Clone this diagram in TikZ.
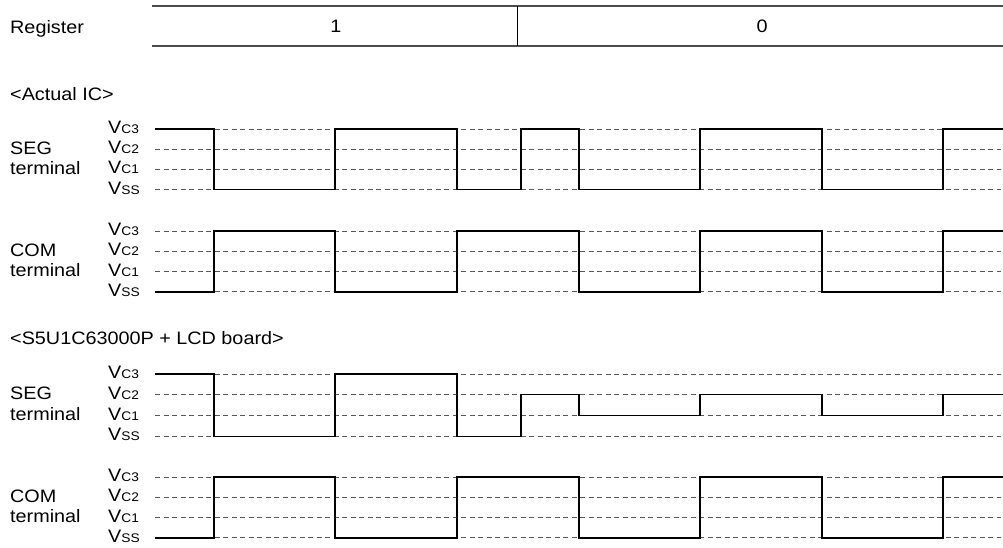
\documentclass[tikz,border=0pt]{standalone}
\usepackage{fontspec}
\setmainfont[FakeStretch=1.1]{Liberation Sans}
\usepackage{tikz}
\usetikzlibrary{positioning}
\tikzset{
  wave/.style={line width=1.2pt, black, line join=miter},
  guide/.style={line width=1pt, gray!70!black, dash pattern=on 5pt off 3.5pt},
  rowline/.style={line width=1.4pt, black!70},
  lvllabel/.style={anchor=base west, inner sep=0pt, yshift=-4.5pt},
  txt/.style={anchor=base west, inner sep=0pt}
}
\newcommand{\lvsub}[1]{{\fontsize{12.5}{13}\selectfont #1}}

% dashed level guides + V labels of one terminal
\newcommand{\levelset}[1]{%
  \foreach \nm/\sb [count=\i from 0] in {c3/C3,c2/C2,c1/C1,ss/SS}{
    \draw[guide] (155,\i) -- (1001,\i);
    \node[lvllabel] (#1-\nm) at (108,\i) {V\lvsub{\sb}};
  }}

\begin{document}
\begin{tikzpicture}[x=1pt, y=-1pt, font=\fontsize{18}{21}\selectfont]
\useasboundingbox (0,0) rectangle (1003,547);

% register row
\node[txt] (reg) at (10,33) {Register};
\draw[rowline] (152,6) -- (1003,6);
\draw[rowline] (152,46) -- (1003,46);
\draw[line width=1pt] (517,6) -- (517,46);
\node (one) at (336,26) {1};
\node (zero) at (762,26) {0};

% actual IC
\node[txt] (ichead) at (10,100) {<Actual IC>};

\begin{scope}[shift={(0,129)}, y=-20.2pt]
\levelset{seg1}
\node[txt, yshift=-5pt] (seg1-name) at (10,1) {SEG};
\node[txt, yshift=-5pt] (seg1-term) at (10,2) {terminal};
\draw[wave] (155,0) -| (214,3) -| (335,0) -| (457,3) -| (521,0) -| (579,3)
  -| (700,0) -| (822,3) -| (943,0) -- (1003,0);
\end{scope}

\begin{scope}[shift={(0,231)}, y=-20.3pt]
\levelset{com1}
\node[txt, yshift=-5pt] (com1-name) at (10,1) {COM};
\node[txt, yshift=-5pt] (com1-term) at (10,2) {terminal};
\draw[wave] (155,3) -| (214,0) -| (335,3) -| (457,0) -| (579,3) -| (700,0)
  -| (822,3) -| (943,0) -- (1003,0);
\end{scope}

% evaluation board
\node[txt] (bdhead) at (10,344) {<S5U1C63000P + LCD board>};

\begin{scope}[shift={(0,374)}, y=-20.8pt]
\levelset{seg2}
\node[txt, yshift=-5pt] (seg2-name) at (10,1) {SEG};
\node[txt, yshift=-5pt] (seg2-term) at (10,2) {terminal};
\draw[wave] (155,0) -| (214,3) -| (335,0) -| (457,3) -| (521,1) -| (579,2)
  -| (700,1) -| (822,2) -| (943,1) -- (1003,1);
\end{scope}

\begin{scope}[shift={(0,477)}, y=-20.3pt]
\levelset{com2}
\node[txt, yshift=-5pt] (com2-name) at (10,1) {COM};
\node[txt, yshift=-5pt] (com2-term) at (10,2) {terminal};
\draw[wave] (155,3) -| (214,0) -| (335,3) -| (457,0) -| (579,3) -| (700,0)
  -| (822,3) -| (943,0) -- (1003,0);
\end{scope}
\end{tikzpicture}
\end{document}
